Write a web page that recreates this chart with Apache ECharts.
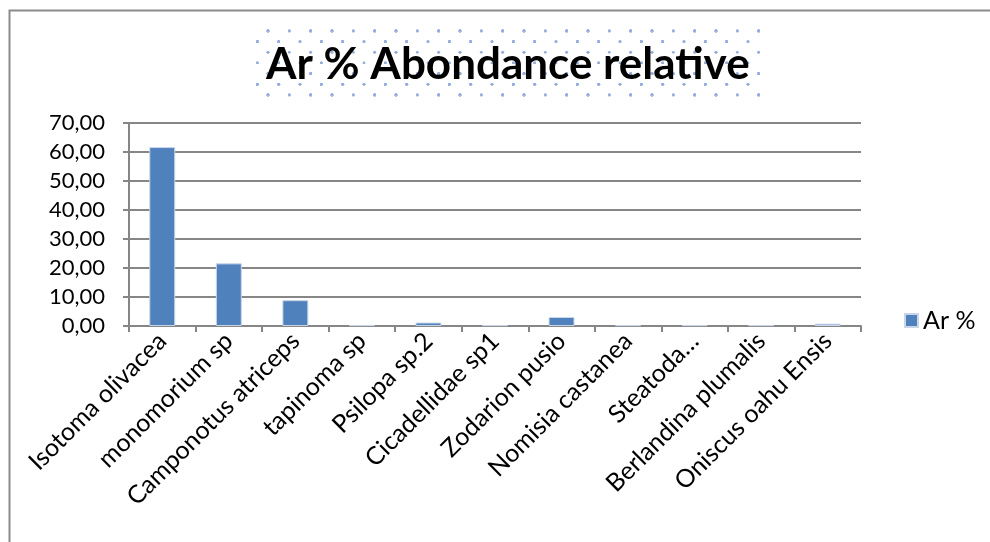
<!DOCTYPE html>
<html>
<head>
<meta charset="utf-8">
<script src="https://cdn.jsdelivr.net/npm/echarts@6/dist/echarts.min.js"></script>
<style>html,body{margin:0;padding:0;background:#fff}#c{width:990px;height:542px}</style>
</head>
<body>
<div id="c"></div>
<script>
var titleText = 'Ar % Abondance relative';
var seriesName = 'Ar %';
var categories = ['Isotoma olivacea','monomorium sp','Camponotus atriceps','tapinoma sp','Psilopa sp.2','Cicadellidae sp1','Zodarion pusio','Nomisia castanea','Steatoda\u2026','Berlandina plumalis','Oniscus oahu Ensis'];
var values = [61.7, 21.6, 8.9, 0.3, 1.2, 0.3, 3.1, 0.3, 0.3, 0.3, 0.8];
var yMin = 0, yMax = 70, yStep = 10;

var FONT = 'Lato';
function dotPattern() {
  var S = 64, p = S / 3;
  var c = document.createElement('canvas');
  c.width = S; c.height = S;
  var g = c.getContext('2d');
  g.fillStyle = '#ffffff'; g.fillRect(0, 0, S, S);
  g.fillStyle = '#94afdc';
  var pts = [];
  for (var i = -1; i < 4; i++) for (var j = -1; j < 4; j++) {
    pts.push([12 + i * p, 31 + j * p]);
    pts.push([12 + p / 2 + i * p, 31 + p / 2 + j * p]);
  }
  pts.forEach(function (q) {
    var x = ((q[0] % S) + S) % S, y = ((q[1] % S) + S) % S;
    g.beginPath(); g.arc(x, y, 1.4, 0, Math.PI * 2); g.fill();
  });
  return c;
}
var chart = echarts.init(document.getElementById('c'));
chart.setOption({
  animation: false,
  backgroundColor: '#fff',
  graphic: [
    { type: 'polyline', shape: { points: [[9.5, 542], [9.5, 10.5], [990, 10.5]] }, style: { stroke: '#8c8c8c', lineWidth: 2, fill: null }, silent: true },
    { type: 'rect', shape: { x: 255, y: 27, width: 505, height: 70 }, style: { fill: { image: dotPattern(), repeat: 'repeat' } }, z: -1, silent: true }
  ],
  title: {
    text: titleText, left: 261, top: 38,
    textStyle: { fontFamily: FONT, fontWeight: 'bold', fontSize: 44, color: '#000' }
  },
  legend: {
    data: [seriesName], orient: 'vertical', left: 899, top: 303,
    itemWidth: 13, itemHeight: 13, itemGap: 8,
    icon: 'rect',
    textStyle: { fontFamily: FONT, fontSize: 25, color: '#000' }
  },
  grid: { left: 129, right: 129, top: 123, bottom: 216, containLabel: false },
  xAxis: {
    type: 'category', data: categories,
    axisLine: { lineStyle: { color: '#868686', width: 2 } },
    axisTick: { show: true, length: 6, lineStyle: { color: '#868686', width: 2 } },
    axisLabel: { rotate: 45, interval: 0, margin: 11, fontFamily: FONT, fontSize: 25, color: '#000' }
  },
  yAxis: {
    type: 'value', min: yMin, max: yMax, interval: yStep,
    axisLine: { show: true, lineStyle: { color: '#868686', width: 2 } },
    axisTick: { show: true, length: 6, lineStyle: { color: '#868686', width: 2 } },
    splitLine: { lineStyle: { color: '#868686', width: 2 } },
    axisLabel: { margin: 24, fontFamily: FONT, fontSize: 22, color: '#000',
      formatter: function (v) { return v.toFixed(2).replace('.', ','); } }
  },
  series: [{
    name: seriesName, type: 'bar', data: values, barWidth: '39%',
    itemStyle: { color: '#4f81bd', borderColor: '#c9d6ea', borderWidth: 1 }
  }]
});
</script>
</body>
</html>
